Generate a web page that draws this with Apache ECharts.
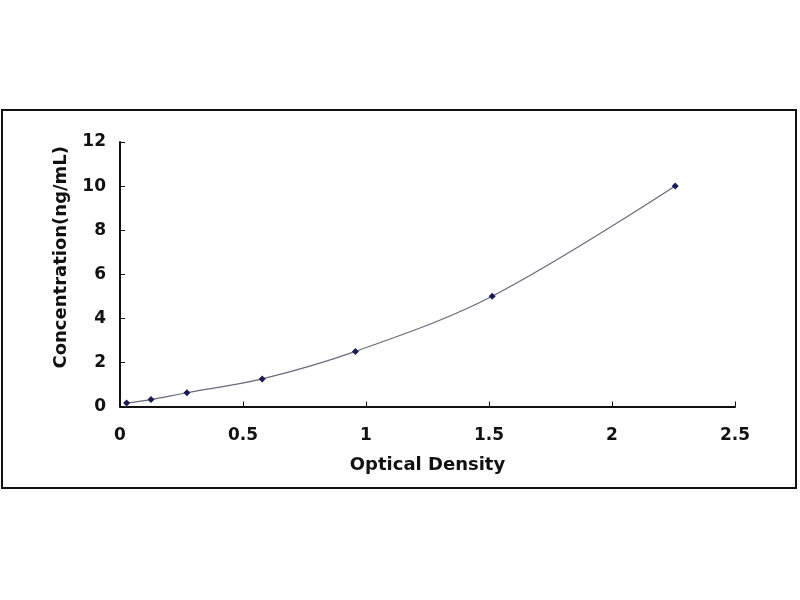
<!DOCTYPE html>
<html>
<head>
<meta charset="utf-8">
<script src="https://cdn.jsdelivr.net/npm/echarts@6/dist/echarts.min.js"></script>
<style>
html,body{margin:0;padding:0;background:#fff;}
#chart{width:800px;height:600px;}
</style>
</head>
<body>
<div id="chart"></div>
<script>
var opticalDensity = [0.027, 0.126, 0.272, 0.578, 0.957, 1.513, 2.257];
var concentration = [0.156, 0.312, 0.625, 1.25, 2.5, 5, 10];
var xTicks = [0, 0.5, 1, 1.5, 2, 2.5];
var yTicks = [0, 2, 4, 6, 8, 10, 12];

var points = opticalDensity.map(function (x, i) { return [x, concentration[i]]; });

var chart = echarts.init(document.getElementById('chart'));
var labelFont = {
  color: '#111', fontFamily: 'DejaVu Sans, sans-serif',
  fontWeight: 'bold', fontSize: 17
};
chart.setOption({
  backgroundColor: '#fff',
  animation: false,
  graphic: [{
    type: 'rect',
    shape: { x: 2, y: 110, width: 794, height: 378 },
    style: { fill: 'none', stroke: '#111', lineWidth: 2 },
    z: 100
  }],
  grid: { left: 120, right: 65, top: 142, bottom: 193.5, containLabel: false },
  xAxis: {
    type: 'value', min: 0, max: 2.5, interval: 0.5,
    name: 'Optical Density', nameLocation: 'middle', nameGap: 50,
    nameTextStyle: Object.assign({}, labelFont, { fontSize: 18 }),
    axisLine: { lineStyle: { color: '#111', width: 2 } },
    axisTick: { inside: true, length: 5, lineStyle: { color: '#111', width: 1 } },
    axisLabel: Object.assign({ margin: 21 }, labelFont, {
      formatter: function (v) { return String(v); }
    }),
    splitLine: { show: false }
  },
  yAxis: {
    type: 'value', min: 0, max: 12, interval: 2,
    name: 'Concentration(ng/mL)', nameLocation: 'middle', nameGap: 50,
    nameTextStyle: Object.assign({}, labelFont, { fontSize: 18, padding: [0, 0, 0, 34] }),
    axisLine: { show: true, lineStyle: { color: '#111', width: 2 } },
    axisTick: { show: true, inside: true, length: 5, lineStyle: { color: '#111', width: 1 } },
    axisLabel: Object.assign({ margin: 14 }, labelFont),
    splitLine: { show: false }
  },
  series: [{
    type: 'line',
    data: points,
    smooth: 0.35,
    symbol: 'diamond',
    symbolSize: 7,
    itemStyle: { color: '#1c1c55' },
    lineStyle: { color: '#6a6a78', width: 1.2 }
  }]
});
</script>
</body>
</html>
